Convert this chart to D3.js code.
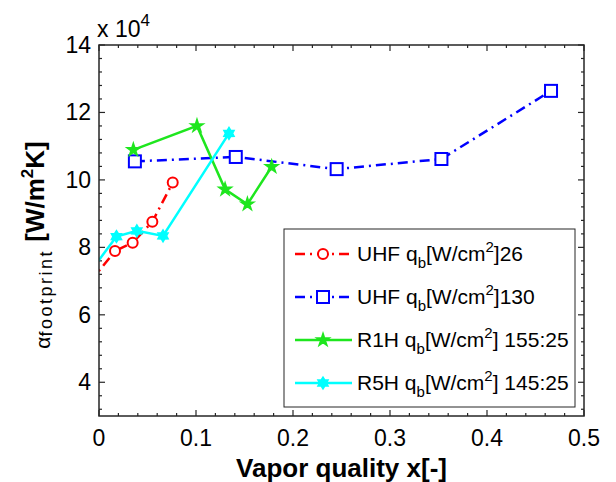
<!DOCTYPE html>
<html lang="en">
<head>
<meta charset="UTF-8">
<title>Footprint heat transfer coefficient</title>
<script src="https://d3js.org/d3.v7.min.js"></script>
<style>
    body { margin: 0; background: #fff; }
    svg { display: block; font-family: "Liberation Sans", Arial, sans-serif; }
</style>
</head>
<body>
<svg id="chart" width="616" height="482"></svg>
<script>
// data (y values in units of 10^4 W/m^2K)
const seriesNames = ["UHF", "UHF", "R1H", "R5H"];
const seriesLabels = ["26", "130", " 155:25", " 145:25"];
const uhf26X = [-0.01, 0.0165, 0.0347, 0.055, 0.076];
const uhf26Y = [6.95, 7.89, 8.14, 8.76, 9.92];
const uhf130X = [0.037, 0.141, 0.245, 0.353, 0.466];
const uhf130Y = [10.55, 10.68, 10.32, 10.62, 12.64];
const r1hX = [0.0354, 0.101, 0.130, 0.153, 0.178];
const r1hY = [10.89, 11.6, 9.72, 9.28, 10.39];
const r5hX = [-0.01, 0.018, 0.039, 0.066, 0.134];
const r5hY = [7.24, 8.32, 8.49, 8.34, 11.38];
const xTicks = [0, 0.1, 0.2, 0.3, 0.4, 0.5];
const yTicks = [4, 6, 8, 10, 12, 14];

const margin = { top: 45, right: 32, bottom: 66, left: 99 };
const W = 616, H = 482;
const w = W - margin.left - margin.right;
const h = H - margin.top - margin.bottom;
const axisColor = "#262626";

const svg = d3.select("#chart");
const g = svg.append("g").attr("transform", `translate(${margin.left},${margin.top})`);

const x = d3.scaleLinear().domain([0, 0.5]).range([0, w]);
const y = d3.scaleLinear().domain([3, 14]).range([h, 0]);

svg.append("defs").append("clipPath").attr("id", "clip")
    .append("rect").attr("width", w).attr("height", h);

// hexagram symbol for the R5H series
const symbolHexagram = {
    draw(context, size) {
        const r = Math.sqrt(size / 2.6);
        const ri = r * 0.6;
        for (let i = 0; i < 12; i++) {
            const a = -Math.PI / 2 + i * Math.PI / 6;
            const rr = i % 2 === 0 ? r : ri;
            const px = rr * Math.cos(a), py = rr * Math.sin(a);
            if (i === 0) context.moveTo(px, py); else context.lineTo(px, py);
        }
        context.closePath();
    }
};

const series = [
    { xs: uhf26X, ys: uhf26Y, color: "#ff0000", dash: "10,5,2,5", marker: "circle" },
    { xs: uhf130X, ys: uhf130Y, color: "#0000ff", dash: "10,5,2,5", marker: "square" },
    { xs: r1hX, ys: r1hY, color: "#1ee61e", dash: null, marker: "star" },
    { xs: r5hX, ys: r5hY, color: "#00ffff", dash: null, marker: "hexagram" }
];

function drawMarker(sel, s) {
    if (s.marker === "circle") {
        sel.append("circle").attr("r", 5).attr("fill", "#fff")
            .attr("stroke", s.color).attr("stroke-width", 2);
    } else if (s.marker === "square") {
        sel.append("rect").attr("x", -6).attr("y", -6).attr("width", 12).attr("height", 12)
            .attr("fill", "#fff").attr("stroke", s.color).attr("stroke-width", 2);
    } else if (s.marker === "star") {
        sel.append("path").attr("d", d3.symbol().type(d3.symbolStar).size(50)())
            .attr("fill", s.color).attr("stroke", s.color).attr("stroke-width", 1.5);
    } else {
        sel.append("path").attr("d", d3.symbol().type(symbolHexagram).size(90)())
            .attr("fill", s.color).attr("stroke", s.color).attr("stroke-width", 1.5);
    }
}

// axes box with ticks on all sides
const xMinor = d3.range(0, 0.5001, 0.02);
const yMinor = d3.range(3.2, 14.001, 0.4);

const ticksG = g.append("g").attr("stroke", axisColor).attr("stroke-width", 1.2);
xMinor.forEach(v => {
    const major = xTicks.some(t => Math.abs(t - v) < 1e-6);
    const len = major ? 6 : 3;
    ticksG.append("line").attr("x1", x(v)).attr("x2", x(v)).attr("y1", h).attr("y2", h - len);
    ticksG.append("line").attr("x1", x(v)).attr("x2", x(v)).attr("y1", 0).attr("y2", len);
});
yMinor.forEach(v => {
    const major = yTicks.some(t => Math.abs(t - v) < 1e-6);
    const len = major ? 6 : 3;
    ticksG.append("line").attr("y1", y(v)).attr("y2", y(v)).attr("x1", 0).attr("x2", len);
    ticksG.append("line").attr("y1", y(v)).attr("y2", y(v)).attr("x1", w).attr("x2", w - len);
});

// data lines
const plot = g.append("g").attr("clip-path", "url(#clip)");
series.forEach(s => {
    const pts = s.xs.map((v, i) => [v, s.ys[i]]);
    plot.append("path")
        .attr("d", d3.line().x(d => x(d[0])).y(d => y(d[1]))(pts))
        .attr("fill", "none")
        .attr("stroke", s.color)
        .attr("stroke-width", 2.5)
        .attr("stroke-dasharray", s.dash);
    pts.forEach(p => {
        const m = plot.append("g").attr("transform", `translate(${x(p[0])},${y(p[1])})`);
        drawMarker(m, s);
    });
});

// frame
g.append("rect").attr("width", w).attr("height", h)
    .attr("fill", "none").attr("stroke", axisColor).attr("stroke-width", 1.5);

// x tick labels
g.append("g").selectAll("text").data(xTicks).join("text")
    .attr("x", d => x(d)).attr("y", h + 30)
    .attr("text-anchor", "middle").attr("font-size", 23).attr("fill", "#000")
    .text(d => d3.format("")(d));

// y tick labels
g.append("g").selectAll("text").data(yTicks).join("text")
    .attr("x", -8).attr("y", d => y(d) + 8)
    .attr("text-anchor", "end").attr("font-size", 23).attr("fill", "#000")
    .text(d => d);

// exponent
const expo = svg.append("text").attr("x", 97).attr("y", 37).attr("font-size", 23).attr("fill", "#000");
expo.append("tspan").text("x 10");
expo.append("tspan").attr("dy", -11).attr("font-size", 17).text("4");

// legend
const leg = svg.append("g").attr("transform", "translate(284,229)");
leg.append("rect").attr("width", 291).attr("height", 178)
    .attr("fill", "#fff").attr("stroke", axisColor).attr("stroke-width", 1);
series.forEach((s, i) => {
    const ly = 25 + i * 43;
    leg.append("line").attr("x1", 11).attr("x2", 68).attr("y1", ly).attr("y2", ly)
        .attr("stroke", s.color).attr("stroke-width", 2.5).attr("stroke-dasharray", s.dash);
    const m = leg.append("g").attr("transform", `translate(39,${ly})`);
    drawMarker(m, s);
    const t = leg.append("text").attr("x", 73).attr("y", ly + 7)
        .attr("font-size", 21).attr("fill", "#000");
    t.append("tspan").text(seriesNames[i] + " q");
    t.append("tspan").attr("dy", 7).attr("font-size", 15).text("b");
    t.append("tspan").attr("dy", -7).text("[W/cm");
    t.append("tspan").attr("dy", -9).attr("font-size", 15).text("2");
    t.append("tspan").attr("dy", 9).text("]" + seriesLabels[i]);
});

// x axis title
svg.append("text")
    .attr("x", margin.left + w / 2).attr("y", 477)
    .attr("text-anchor", "middle").attr("font-size", 26).attr("font-weight", "bold")
    .text("Vapor quality x[-]");

// y axis title
const yt = svg.append("text")
    .attr("transform", `translate(50,245) rotate(-90)`)
    .attr("text-anchor", "middle").attr("fill", "#000");
yt.append("tspan").attr("font-size", 21).text("α");
yt.append("tspan").attr("font-size", 18).attr("dy", 2).attr("letter-spacing", 2.5).text("footprint");
yt.append("tspan").attr("font-size", 26).attr("dy", -8).attr("font-weight", "bold").text(" [W/m");
yt.append("tspan").attr("font-size", 17).attr("dy", -11).attr("font-weight", "bold").text("2");
yt.append("tspan").attr("font-size", 26).attr("dy", 11).attr("font-weight", "bold").text("K]");
</script>
</body>
</html>
